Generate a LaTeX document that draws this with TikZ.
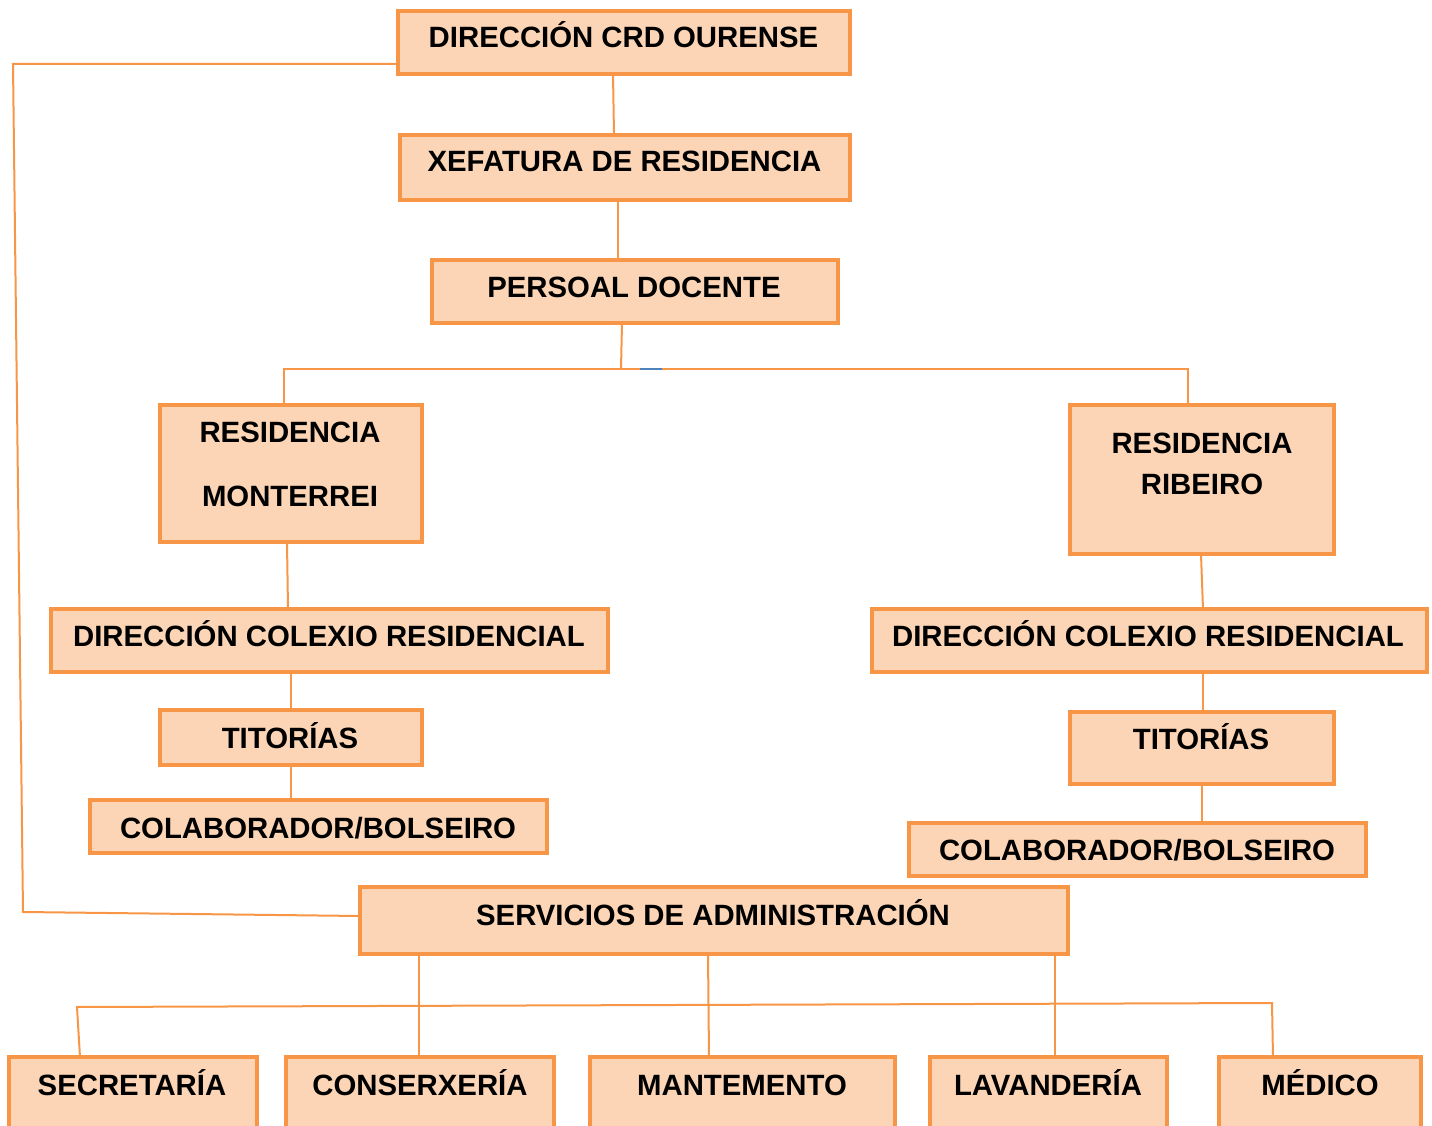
\documentclass[tikz,border=0pt]{standalone}
\usepackage{fontspec}
\setmainfont{Liberation Sans}
\usetikzlibrary{fit,backgrounds}
\definecolor{boxfill}{HTML}{FBD5B5}
\definecolor{boxline}{HTML}{F79646}
\definecolor{markblue}{HTML}{4F81BD}
\tikzset{
  box/.style={draw=boxline, fill=boxfill, line width=3.5pt, inner sep=0pt, outer sep=0pt, rectangle},
  lbl/.style={font=\fontsize{22}{26}\selectfont\bfseries, anchor=base, inner sep=0pt},
  conn/.style={draw=boxline, line width=1.5pt}
}
\begin{document}
\begin{tikzpicture}[x=0.75pt,y=-0.75pt]
\useasboundingbox (0,0) rectangle (1432,1126);
\clip (0,0) rectangle (1432,1126);
% boxes
\node[box, fit={(398,11) (850,74)}] (dcrd) {};
\node[box, fit={(400,135) (850,200)}] (xef) {};
\node[box, fit={(432,260) (838,323)}] (doc) {};
\node[box, fit={(160,405) (422,542)}] (mont) {};
\node[box, fit={(1070,405) (1334,554)}] (rib) {};
\node[box, fit={(51,609) (608,672)}] (dcrl) {};
\node[box, fit={(872,609) (1427,672)}] (dcrr) {};
\node[box, fit={(160,710) (422,765)}] (titl) {};
\node[box, fit={(1070,712) (1334,784)}] (titr) {};
\node[box, fit={(90,800) (547,853)}] (coll) {};
\node[box, fit={(909,823) (1366,876)}] (colr) {};
\node[box, fit={(360,887) (1068,954)}] (serv) {};
\node[box, fit={(9,1057) (257,1140)}] (sec) {};
\node[box, fit={(286,1057) (554,1140)}] (con) {};
\node[box, fit={(590,1057) (895,1140)}] (man) {};
\node[box, fit={(930,1057) (1167,1140)}] (lav) {};
\node[box, fit={(1219,1057) (1421,1140)}] (med) {};
% connectors
\begin{pgfonlayer}{background}
\coordinate (j1) at (621,369);
\coordinate (jl) at (284,369);
\coordinate (jr) at (1188,369);
\coordinate (c1) at (13,64);
\coordinate (c2) at (23,912);
\coordinate (b1) at (77,1007);
\coordinate (b2) at (1272,1003);
\draw[conn] (613,0 |- dcrd.south) -- (614,0 |- xef.north);
\draw[conn] (618,0 |- xef.south) -- (618,0 |- doc.north);
\draw[conn] (622,0 |- doc.south) -- (j1);
\draw[conn] (284,0 |- mont.north) -- (jl) -- (jr) -- (1188,0 |- rib.north);
\draw[conn] (287,0 |- mont.south) -- (288,0 |- dcrl.north);
\draw[conn] (291,0 |- dcrl.south) -- (291,0 |- titl.north);
\draw[conn] (291,0 |- titl.south) -- (291,0 |- coll.north);
\draw[conn] (1201,0 |- rib.south) -- (1203,0 |- dcrr.north);
\draw[conn] (1203,0 |- dcrr.south) -- (1203,0 |- titr.north);
\draw[conn] (1202,0 |- titr.south) -- (1202,0 |- colr.north);
\draw[conn] (dcrd.west |- c1) -- (c1) -- (c2) -- (serv.west |- 0,916);
\draw[conn] (419,0 |- serv.south) -- (419,0 |- con.north);
\draw[conn] (708,0 |- serv.south) -- (709,0 |- man.north);
\draw[conn] (1055,0 |- serv.south) -- (1055,0 |- lav.north);
\draw[conn] (80,0 |- sec.north) -- (b1) -- (b2) -- (1273,0 |- med.north);
\end{pgfonlayer}
\draw[markblue, line width=1.5pt] (640,369) -- (662,369);
% labels
\node[lbl] (l1) at (623.5,48) {DIRECCIÓN CRD OURENSE};
\node[lbl] (l2) at (624.5,172) {XEFATURA DE RESIDENCIA};
\node[lbl] (l3) at (634,298) {PERSOAL DOCENTE};
\node[lbl] (l4a) at (290,443) {RESIDENCIA};
\node[lbl] (l4b) at (290,507) {MONTERREI};
\node[lbl] (l5a) at (1202,454) {RESIDENCIA};
\node[lbl] (l5b) at (1202,495) {RIBEIRO};
\node[lbl] (l6) at (329,647) {DIRECCIÓN COLEXIO RESIDENCIAL};
\node[lbl] (l7) at (1148,647) {DIRECCIÓN COLEXIO RESIDENCIAL};
\node[lbl] (l8) at (290,748) {TITORÍAS};
\node[lbl] (l9) at (1201,749) {TITORÍAS};
\node[lbl] (l10) at (318,838) {COLABORADOR/BOLSEIRO};
\node[lbl] (l11) at (1137,860) {COLABORADOR/BOLSEIRO};
\node[lbl] (l12) at (713,925) {SERVICIOS DE ADMINISTRACIÓN};
\node[lbl] (l13) at (132,1095) {SECRETARÍA};
\node[lbl] (l14) at (420,1095) {CONSERXERÍA};
\node[lbl] (l15) at (742,1095) {MANTEMENTO};
\node[lbl] (l16) at (1048,1095) {LAVANDERÍA};
\node[lbl] (l17) at (1320,1095) {MÉDICO};
\end{tikzpicture}
\end{document}
